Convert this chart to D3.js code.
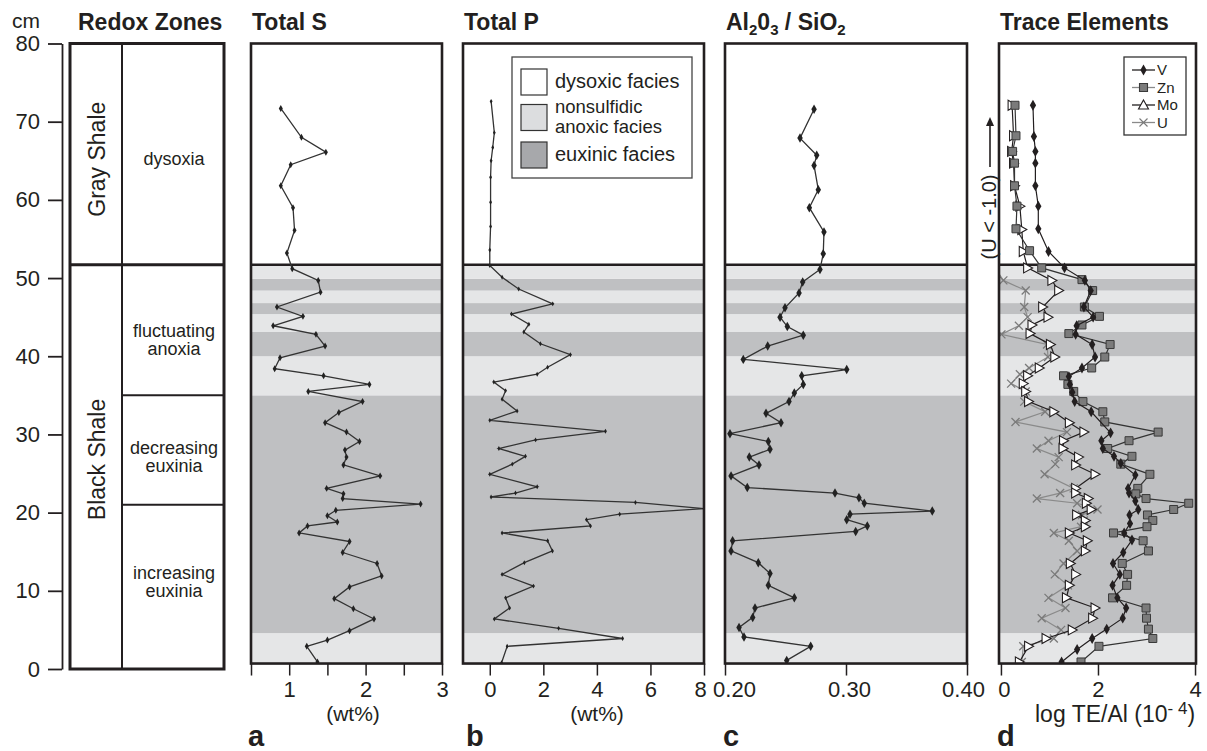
<!DOCTYPE html>
<html><head><meta charset="utf-8">
<script src="https://cdn.jsdelivr.net/npm/d3@7"></script>
<style>body{margin:0;background:#fff;} svg{display:block;font-family:"Liberation Sans",Arial,Helvetica,sans-serif;}</style>
</head><body><svg id="c" width="1207" height="751"></svg>
<script>
// ---------------- DATA ----------------
const depthTicks = [0,10,20,30,40,50,60,70,80];
const bandLo   = [0, 4.6, 35, 40, 43.1, 45.4, 46.8, 48.4, 49.9];
const bandHi   = [4.6, 35, 40, 43.1, 45.4, 46.8, 48.4, 49.9, 51.7];
const bandKind = ["anoxic","euxinic","anoxic","euxinic","anoxic","euxinic","anoxic","euxinic","anoxic"];
const shaleBoundary = 51.7;
const zoneBounds = [35, 21];
const legendFacies = ["dysoxic facies", "nonsulfidic|anoxic facies", "euxinic facies"];

const sDepth = [71.7,68.0,66.1,64.5,61.8,59.0,56.1,53.2,51.2,49.7,48.2,46.3,45.1,43.9,42.8,41.3,39.8,38.4,37.5,36.4,35.5,34.2,32.8,31.5,30.3,29.1,28.0,27.1,26.1,24.7,23.1,22.4,21.8,21.1,20.3,19.6,18.8,18.3,17.4,16.3,14.9,13.5,11.9,10.5,9.0,7.7,6.4,4.9,3.7,2.9,0.9];
const sVal   = [0.89,1.16,1.48,1.02,0.89,1.05,1.07,0.97,1.04,1.38,1.41,0.84,1.18,0.79,1.35,1.47,0.88,0.81,1.45,2.05,1.25,1.96,1.65,1.47,1.75,1.92,1.73,1.75,1.71,2.19,1.49,1.71,1.70,2.72,1.61,1.50,1.63,1.24,1.13,1.79,1.70,2.15,2.21,1.79,1.59,1.84,2.11,1.79,1.50,1.23,1.37];

const pDepth = [72.6,68.6,66.7,65.0,62.9,59.7,56.6,53.6,51.6,50.1,48.6,46.7,45.4,44.1,43.1,41.6,40.2,38.6,37.7,36.7,35.6,34.5,33.0,31.8,30.4,29.3,28.2,27.2,26.2,24.9,23.3,22.5,22.0,21.3,20.5,19.8,19.1,18.3,17.4,16.4,15.1,13.6,12.1,10.6,9.1,7.8,6.4,5.2,3.9,2.9,0.8];
const pVal   = [0.05,0.17,0.11,0.05,0.03,0.03,0.03,0.0,0.0,0.46,1.08,2.35,0.81,1.46,1.27,1.89,3.01,2.16,1.77,0.15,0.59,0.46,1.02,0.0,4.32,1.71,0.34,1.33,0.84,0.0,1.77,0.96,0.05,5.44,8.0,4.85,3.61,3.76,0.46,2.16,2.34,1.29,0.46,1.63,0.59,0.74,0.17,2.57,4.96,0.65,0.44];

const alDepth = [71.6,67.9,65.7,64.4,61.3,59.0,55.9,53.1,51.1,49.5,48.1,46.2,45.0,43.8,42.7,41.3,39.6,38.3,37.5,36.4,35.3,34.2,32.7,31.5,30.1,29.1,28.1,27.1,26.1,24.7,23.2,22.5,21.9,21.2,20.2,19.8,19.1,18.3,17.6,16.4,15.1,13.6,12.2,10.7,9.1,7.8,6.6,5.3,4.1,2.9,1.1];
const alVal   = [0.2736,0.262,0.2758,0.2736,0.2771,0.2697,0.2818,0.2812,0.2785,0.2642,0.2612,0.2496,0.2455,0.2515,0.2647,0.2353,0.2151,0.3006,0.2634,0.2647,0.2573,0.2529,0.2339,0.2463,0.2041,0.2358,0.2372,0.2201,0.2281,0.205,0.2184,0.2909,0.3107,0.3151,0.3713,0.3033,0.3006,0.3176,0.308,0.2063,0.205,0.2275,0.2372,0.2358,0.2573,0.2248,0.2229,0.2116,0.2157,0.2708,0.251];

const vDepth = [72.1,68.1,66.2,64.7,61.8,59.2,56.3,53.4,51.3,49.7,48.4,46.3,45.0,43.9,42.8,41.5,39.9,38.5,37.4,36.4,35.4,34.2,32.9,30.2,29.2,28.2,27.2,26.3,24.8,23.1,22.5,21.5,20.4,19.7,18.6,17.4,16.5,14.9,13.5,12.1,10.7,9.1,7.8,6.5,5.1,3.9,2.5,0.9];
const vVal   = [0.66,0.68,0.71,0.71,0.71,0.77,0.77,0.98,1.31,1.73,1.85,1.71,1.90,1.56,1.54,1.88,1.94,1.67,1.40,1.42,1.47,1.52,1.86,2.26,2.07,2.10,2.33,2.47,2.77,2.62,2.64,2.77,2.83,2.65,2.66,2.54,2.70,2.52,2.31,2.45,2.30,2.40,2.58,2.51,2.18,1.88,1.57,1.25];

const znDepth = [72.1,68.2,66.2,64.7,61.8,59.2,56.3,53.5,51.3,49.8,48.4,46.3,45.1,44.0,42.9,41.5,39.9,38.5,37.5,36.4,35.5,34.2,32.9,31.6,30.3,29.2,28.2,27.2,26.2,24.9,23.1,22.4,21.8,21.2,20.4,19.7,19.0,18.2,17.4,16.4,15.1,13.5,12.1,10.7,9.1,7.8,6.5,5.1,3.9,2.9,0.9];
const znVal   = [0.29,0.31,0.24,0.28,0.28,0.33,0.31,0.59,0.84,1.67,1.89,1.72,2.03,1.67,1.40,2.25,2.14,1.87,1.29,1.38,1.50,1.69,2.10,2.14,3.24,2.64,2.20,2.70,2.47,3.07,2.82,2.78,2.99,3.87,3.56,3.02,3.13,3.01,2.32,2.93,3.04,2.50,2.61,2.59,2.30,2.99,3.00,3.04,3.13,2.02,1.65];

const moDepth = [72.1,68.2,66.2,64.7,61.8,59.2,56.2,53.4,51.3,49.7,48.4,46.3,45.0,44.0,42.9,41.5,39.9,38.5,37.5,36.5,35.5,34.2,32.9,31.5,30.3,29.2,28.2,27.1,26.1,24.9,23.1,22.5,21.8,21.2,20.4,19.7,19.0,18.2,17.4,16.4,15.1,13.5,12.1,10.7,9.1,7.8,6.5,5.0,3.9,2.9,0.9];
const moVal   = [0.23,0.26,0.22,0.26,0.28,0.39,0.43,0.46,0.55,1.05,1.19,0.86,0.97,0.64,0.60,1.02,1.11,0.79,0.55,0.46,0.51,0.57,1.09,1.41,1.71,1.29,1.28,1.60,1.54,1.94,1.54,1.54,1.80,1.76,1.86,1.56,1.74,1.74,1.41,1.78,1.74,1.43,1.54,1.41,1.35,1.94,1.89,1.47,0.93,0.57,0.38];

const uDepth = [53.4,49.7,48.4,46.3,45.0,43.9,42.8,41.5,39.9,38.5,37.7,36.5,35.5,34.2,32.9,31.6,30.3,29.2,28.2,27.1,26.2,24.9,23.1,22.5,21.8,21.2,20.4,19.7,19.0,18.2,17.4,16.4,15.1,13.5,12.1,10.7,9.1,7.8,6.5,5.0,3.9,2.9,0.9];
const uVal   = [-0.35,0.05,0.51,0.48,0.55,0.37,0.01,0.95,0.97,0.58,0.39,0.21,0.51,0.48,0.91,0.30,1.36,0.98,0.74,1.19,1.12,0.90,1.50,1.22,0.74,1.57,1.99,1.67,1.71,1.65,1.09,1.40,1.57,1.29,1.11,1.38,0.98,1.33,0.84,1.24,1.09,0.46,0.43];

const teNames = ["V","Zn","Mo","U"];

// ---------------- DRAW ----------------
const ink = "#231f20";
const bandColor = {anoxic:"#e5e6e7", euxinic:"#bfc0c2"};
const svg = d3.select("#c");
const y = d3.scaleLinear().domain([0,80]).range([669,43.5]);
const BOT = 0.7;
const zip = (ds, vs) => ds.map((d,i)=>({d:d, v:vs[i]}));

// left depth axis
const gAx = svg.append("g").attr("transform","translate(62,0)")
  .call(d3.axisLeft(y).tickValues(depthTicks).tickSize(14).tickSizeOuter(0).tickPadding(8));
gAx.selectAll("path,line").attr("stroke",ink).attr("stroke-width",1.8);
gAx.selectAll("text").attr("font-size",22).attr("fill",ink).attr("font-family","Liberation Sans, Arial, sans-serif");
svg.append("text").attr("x",12).attr("y",28).attr("font-size",21).attr("fill",ink).text("cm");

// redox zones column
const rx0 = 70, rx1 = 224, rxm = 122;
svg.append("text").attr("x",78).attr("y",30).attr("font-size",23).attr("font-weight","bold").attr("fill",ink).text("Redox Zones");
svg.append("line").attr("x1",rxm).attr("x2",rxm).attr("y1",y(80)).attr("y2",y(0)).attr("stroke",ink).attr("stroke-width",2);
zoneBounds.forEach(b=>svg.append("line").attr("x1",rxm).attr("x2",rx1).attr("y1",y(b)).attr("y2",y(b)).attr("stroke",ink).attr("stroke-width",2));
svg.append("line").attr("x1",rx0).attr("x2",rx1).attr("y1",y(shaleBoundary)).attr("y2",y(shaleBoundary)).attr("stroke",ink).attr("stroke-width",3);
svg.append("rect").attr("x",rx0).attr("y",y(80)).attr("width",rx1-rx0).attr("height",y(0)-y(80))
  .attr("fill","none").attr("stroke",ink).attr("stroke-width",3);
const rotText = (txt, cx, cy, fs) => svg.append("text").attr("transform",`translate(${cx},${cy}) rotate(-90)`)
  .attr("text-anchor","middle").attr("dominant-baseline","central").attr("font-size",fs).attr("fill",ink).text(txt);
rotText("Gray Shale", 97, y(65.2), 23);
rotText("Black Shale", 97, y(26.8), 23);
const zoneText = (lines, cy) => {
  const t = svg.append("text").attr("text-anchor","middle").attr("font-size",18).attr("fill",ink);
  lines.forEach((l,i)=>t.append("tspan").attr("x",174).attr("y",cy + i*18).text(l));
};
zoneText(["dysoxia"], y(65.2)+6);
zoneText(["fluctuating","anoxia"], y(43.2)+6);
zoneText(["decreasing","euxinia"], y(28.3)+6);
zoneText(["increasing","euxinia"], y(12.3)+6);

// generic panel
function panel(cfg){
  const x = d3.scaleLinear().domain(cfg.domain).range(cfg.range);
  const g = svg.append("g");
  const x0 = cfg.range[0], x1 = cfg.range[1];
  const id = "clip"+cfg.key;
  svg.append("clipPath").attr("id",id).append("rect").attr("x",x0).attr("y",y(80)).attr("width",x1-x0).attr("height",y(BOT)-y(80));
  g.selectAll(".band").data(bandLo.map((b,i)=>({lo:Math.max(b,BOT),hi:bandHi[i],k:bandKind[i]}))).join("rect")
    .attr("x",x0).attr("width",x1-x0).attr("y",d=>y(d.hi)).attr("height",d=>y(d.lo)-y(d.hi)).attr("fill",d=>bandColor[d.k]);
  g.append("line").attr("x1",x0).attr("x2",x1).attr("y1",y(shaleBoundary)).attr("y2",y(shaleBoundary)).attr("stroke",ink).attr("stroke-width",2.6);
  const ax = g.append("g").attr("transform",`translate(0,${y(BOT)})`)
    .call(d3.axisBottom(x).tickValues(cfg.ticks).tickSize(12).tickSizeOuter(0).tickPadding(6).tickFormat(cfg.fmt));
  ax.select(".domain").remove();
  ax.selectAll("line").attr("stroke",ink).attr("stroke-width",1.5);
  ax.selectAll("text").attr("font-size",22).attr("fill",ink).attr("font-family","Liberation Sans, Arial, sans-serif")
    .attr("dx",(d,i)=>cfg.labelDx ? cfg.labelDx[i] : 0);
  const plot = g.append("g").attr("clip-path",`url(#${id})`);
  g.append("rect").attr("x",x0).attr("y",y(80)).attr("width",x1-x0).attr("height",y(BOT)-y(80))
    .attr("fill","none").attr("stroke",ink).attr("stroke-width",2.6);
  const title = svg.append("text").attr("x",x0+1).attr("y",30).attr("font-size",23).attr("font-weight","bold").attr("fill",ink);
  cfg.title(title);
  svg.append("text").attr("x",cfg.letterX).attr("y",746).attr("font-size",29).attr("font-weight","bold").attr("fill",ink).text(cfg.letter);
  return {x, plot, g};
}
const line = (x) => d3.line().x(d=>x(d.v)).y(d=>y(d.d));
function series(p, data, opt){
  p.plot.append("path").datum(data).attr("d",line(p.x)).attr("fill","none").attr("stroke",opt.stroke).attr("stroke-width",opt.lw||1.3);
  p.plot.selectAll(null).data(data).join("path")
    .attr("transform",d=>`translate(${p.x(d.v)},${y(d.d)})`)
    .attr("d",opt.shape).attr("fill",opt.fill).attr("stroke",opt.mstroke||"none").attr("stroke-width",opt.msw||1);
}
const diamond = s => d3.symbol().type(d3.symbolDiamond).size(s)();
const square = s => `M${-s/2},${-s/2}h${s}v${s}h${-s}Z`;
const triR = "M-4,-5L5,0L-4,5Z";
const triU = "M0,-5L5,4L-5,4Z";
const xMark = "M-4,-4L4,4M-4,4L4,-4";

// a: Total S
const pS = panel({key:"S", domain:[0.5,3], range:[251,442], ticks:[0.5,1,1.5,2,2.5,3],
  fmt:d=>Number.isInteger(d)?d:"", title:t=>t.text("Total S"), letter:"a", letterX:248});
series(pS, zip(sDepth,sVal), {stroke:"#333", shape:diamond(14), fill:"#222"});
svg.append("text").attr("x",353).attr("y",721).attr("text-anchor","middle").attr("font-size",21).attr("fill",ink).text("(wt%)");

// b: Total P
const pP = panel({key:"P", domain:[-1,8], range:[463,704], ticks:[0,2,4,6,8], labelDx:[0,0,0,0,-4],
  fmt:d=>d, title:t=>t.text("Total P"), letter:"b", letterX:466});
series(pP, zip(pDepth,pVal), {stroke:"#333", shape:diamond(7), fill:"#222"});
svg.append("text").attr("x",597).attr("y",721).attr("text-anchor","middle").attr("font-size",21).attr("fill",ink).text("(wt%)");
// facies legend
const lg = svg.append("g");
lg.append("rect").attr("x",512).attr("y",57).attr("width",180).attr("height",121).attr("fill","#fff").attr("stroke","#444").attr("stroke-width",1.3);
const swFill = ["#ffffff", "#dcdddf", "#a7a8ab"];
const swY = [69, 104.5, 142];
legendFacies.forEach((lab,i)=>{
  lg.append("rect").attr("x",521).attr("y",swY[i]).attr("width",26).attr("height",26).attr("fill",swFill[i]).attr("stroke","#333").attr("stroke-width",1.2);
  const parts = lab.split("|");
  if(parts.length===1){
    lg.append("text").attr("font-size",20).attr("fill",ink).attr("x",555).attr("y",swY[i]+19).text(parts[0]);
  } else {
    lg.append("text").attr("font-size",18.5).attr("fill",ink).attr("x",555).attr("y",swY[i]+8.5).text(parts[0]);
    lg.append("text").attr("font-size",18.5).attr("fill",ink).attr("x",555).attr("y",swY[i]+28.5).text(parts[1]);
  }
});

// c: Al2O3/SiO2
const pA = panel({key:"A", domain:[0.2,0.4], range:[725,967], ticks:[0.2,0.3,0.4], labelDx:[9,3,-4],
  fmt:d3.format(".2f"), letter:"c", letterX:723,
  title:t=>{ t.append("tspan").text("Al"); t.append("tspan").attr("font-size",15).attr("dy",5).text("2");
    t.append("tspan").attr("dy",-5).text("0"); t.append("tspan").attr("font-size",15).attr("dy",5).text("3");
    t.append("tspan").attr("dy",-5).text(" / SiO"); t.append("tspan").attr("font-size",15).attr("dy",5).text("2"); }});
series(pA, zip(alDepth,alVal), {stroke:"#333", shape:diamond(26), fill:"#222"});

// d: Trace elements
const pT = panel({key:"T", domain:[-0.04,4.02], range:[999,1196], ticks:[0,2,4], labelDx:[3,0,0],
  fmt:d=>d, title:t=>t.text("Trace Elements"), letter:"d", letterX:997});
series(pT, zip(uDepth,uVal), {stroke:"#8a8a8a", lw:1.2, shape:xMark, fill:"none", mstroke:"#7a7a7a", msw:1.3});
series(pT, zip(moDepth,moVal), {stroke:ink, lw:1.2, shape:triR, fill:"#fff", mstroke:ink, msw:1.1});
series(pT, zip(znDepth,znVal), {stroke:"#333", lw:1.2, shape:square(8), fill:"#7b7b7b", mstroke:"#3a3a3a", msw:1});
series(pT, zip(vDepth,vVal), {stroke:ink, lw:1.2, shape:diamond(34), fill:ink});
const te = svg.append("text").attr("x",1035).attr("y",722).attr("font-size",23).attr("fill",ink);
te.append("tspan").text("log TE/Al (10");
te.append("tspan").attr("font-size",17).attr("dy",-8).text("- 4");
te.append("tspan").attr("dy",8).text(")");
// U note
svg.append("text").attr("transform",`translate(989,217) rotate(-90)`).attr("text-anchor","middle").attr("dominant-baseline","central")
  .attr("font-size",20).attr("fill",ink).text("(U < -1.0)");
svg.append("line").attr("x1",990).attr("x2",990).attr("y1",167).attr("y2",124).attr("stroke",ink).attr("stroke-width",1.6);
svg.append("path").attr("d","M986,126L990,117L994,126Z").attr("fill",ink);
// TE legend
const tl = svg.append("g");
tl.append("rect").attr("x",1124).attr("y",57).attr("width",62).attr("height",78).attr("fill","#fff").attr("stroke","#333").attr("stroke-width",1.3);
const tlY = [70, 87.5, 105, 122.5];
const tlStyle = [
  {stroke:ink, shape:diamond(34), fill:ink, ms:"none"},
  {stroke:"#8a8a8a", shape:square(8), fill:"#7b7b7b", ms:"#3a3a3a"},
  {stroke:ink, shape:triU, fill:"#fff", ms:ink},
  {stroke:"#8a8a8a", shape:xMark, fill:"none", ms:"#7a7a7a"}];
teNames.forEach((n,i)=>{
  tl.append("line").attr("x1",1132).attr("x2",1155).attr("y1",tlY[i]).attr("y2",tlY[i]).attr("stroke",tlStyle[i].stroke).attr("stroke-width",1.3);
  tl.append("path").attr("transform",`translate(1143.5,${tlY[i]})`).attr("d",tlStyle[i].shape).attr("fill",tlStyle[i].fill).attr("stroke",tlStyle[i].ms).attr("stroke-width",1.1);
  tl.append("text").attr("x",1157).attr("y",tlY[i]).attr("dy","0.36em").attr("font-size",15).attr("fill",ink).text(n);
});
</script></body></html>
